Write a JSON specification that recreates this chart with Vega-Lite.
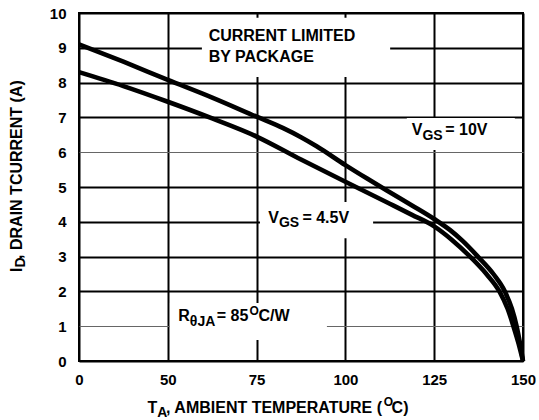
{
  "$schema": "https://vega.github.io/schema/vega-lite/v6.json",
  "width": 444,
  "height": 348,
  "autosize": {"type": "none"},
  "padding": {"left": 79, "top": 13, "right": 16, "bottom": 59},
  "background": "white",
  "config": {
    "font": "Liberation Sans",
    "view": {"stroke": "black", "strokeWidth": 2}
  },
  "datasets": {
    "boxes": [
      {"x": 59.6, "xe": 112.6, "y": 8.16, "ye": 9.86},
      {"x": 117.3, "xe": 147.7, "y": 6.06, "ye": 6.98},
      {"x": 75.95, "xe": 107.8, "y": 3.53, "ye": 4.57},
      {"x": 50.6, "xe": 94.8, "y": 0.6, "ye": 1.67}
    ],
    "curves": [
      {"s": "10V", "x": 0, "y": 9.1},
      {"s": "10V", "x": 25, "y": 8.6},
      {"s": "10V", "x": 50, "y": 8.08},
      {"s": "10V", "x": 62.5, "y": 7.57},
      {"s": "10V", "x": 75, "y": 7.02},
      {"s": "10V", "x": 82.5, "y": 6.69},
      {"s": "10V", "x": 87.5, "y": 6.43},
      {"s": "10V", "x": 91.9, "y": 6.17},
      {"s": "10V", "x": 100, "y": 5.63},
      {"s": "10V", "x": 106, "y": 5.25},
      {"s": "10V", "x": 112.5, "y": 4.85},
      {"s": "10V", "x": 118.75, "y": 4.47},
      {"s": "10V", "x": 125, "y": 4.08},
      {"s": "10V", "x": 129.5, "y": 3.76},
      {"s": "10V", "x": 133, "y": 3.45},
      {"s": "10V", "x": 137.3, "y": 3.0},
      {"s": "10V", "x": 141.67, "y": 2.5},
      {"s": "10V", "x": 144.9, "y": 2.0},
      {"s": "10V", "x": 146.87, "y": 1.5},
      {"s": "10V", "x": 148.2, "y": 1.0},
      {"s": "10V", "x": 149.18, "y": 0.5},
      {"s": "10V", "x": 150, "y": 0},
      {"s": "4.5V", "x": 0, "y": 8.3},
      {"s": "4.5V", "x": 25, "y": 7.9},
      {"s": "4.5V", "x": 50, "y": 7.45},
      {"s": "4.5V", "x": 62.5, "y": 6.97},
      {"s": "4.5V", "x": 75, "y": 6.45},
      {"s": "4.5V", "x": 87.5, "y": 5.79},
      {"s": "4.5V", "x": 100, "y": 5.15},
      {"s": "4.5V", "x": 112.5, "y": 4.52},
      {"s": "4.5V", "x": 118.75, "y": 4.2},
      {"s": "4.5V", "x": 125, "y": 3.87},
      {"s": "4.5V", "x": 130, "y": 3.48},
      {"s": "4.5V", "x": 135.1, "y": 3.0},
      {"s": "4.5V", "x": 139.7, "y": 2.5},
      {"s": "4.5V", "x": 143.36, "y": 2.0},
      {"s": "4.5V", "x": 145.67, "y": 1.5},
      {"s": "4.5V", "x": 147.3, "y": 1.0},
      {"s": "4.5V", "x": 148.76, "y": 0.5},
      {"s": "4.5V", "x": 150, "y": 0}
    ],
    "labels": [
      {"x": 61.5, "y": 9.34, "t": "CURRENT LIMITED", "k": "m"},
      {"x": 61.5, "y": 8.74, "t": "BY PACKAGE", "k": "m"},
      {"x": 118.67, "y": 6.63, "t": "V", "k": "m"},
      {"x": 121.7, "y": 6.47, "t": "GS", "k": "s"},
      {"x": 128.1, "y": 6.63, "t": "= 10V", "k": "m"},
      {"x": 78.3, "y": 4.12, "t": "V", "k": "m"},
      {"x": 81.3, "y": 3.97, "t": "GS", "k": "s"},
      {"x": 87.9, "y": 4.12, "t": "= 4.5V", "k": "m"},
      {"x": 52.95, "y": 1.3, "t": "R", "k": "m"},
      {"x": 56.2, "y": 1.13, "t": "θJA", "k": "s"},
      {"x": 63.8, "y": 1.3, "t": "= 85", "k": "m"},
      {"x": 73.0, "y": 1.45, "t": "O", "k": "p"},
      {"x": 75.5, "y": 1.3, "t": "C/W", "k": "m"},
      {"x": 38.6, "y": -1.35, "t": "T", "k": "m"},
      {"x": 44.1, "y": -1.49, "t": "A", "k": "s"},
      {"x": 49.0, "y": -1.35, "t": ", AMBIENT TEMPERATURE (", "k": "m"},
      {"x": 110.8, "y": -1.18, "t": "O", "k": "p"},
      {"x": 113.0, "y": -1.35, "t": "C)", "k": "m"}
    ],
    "ytitle": [
      {"x": -34.9, "y": 2.557, "t": "I", "k": "m"},
      {"x": -32.4, "y": 2.684, "t": "D", "k": "s"},
      {"x": -34.9, "y": 2.934, "t": ", DRAIN TCURRENT (A)", "k": "m"}
    ]
  },
  "encoding": {
    "x": {
      "field": "x", "type": "quantitative",
      "scale": {"domain": [0, 50, 75, 100, 125, 150], "range": [0, 88.8, 177.6, 266.4, 355.2, 444], "nice": false, "zero": false},
      "axis": {
        "values": [0, 50, 75, 100, 125, 150],
        "title": null, "domain": false, "ticks": false,
        "labelFont": "Liberation Sans", "labelFontSize": 15, "labelFontWeight": "bold",
        "labelColor": "black", "labelPadding": 11, "labelFlush": false, "labelOverlap": false,
        "grid": true, "gridColor": "black", "gridWidth": 2, "gridOpacity": 1
      }
    },
    "y": {
      "field": "y", "type": "quantitative",
      "scale": {"domain": [0, 10], "nice": false, "zero": false},
      "axis": {
        "values": [0, 1, 2, 3, 4, 5, 6, 7, 8, 9, 10],
        "title": null, "domain": false, "ticks": false,
        "labelFont": "Liberation Sans", "labelFontSize": 15, "labelFontWeight": "bold",
        "labelColor": "black", "labelPadding": 13, "labelFlush": false, "labelOverlap": false,
        "grid": true, "gridOpacity": 1,
        "gridColor": {"condition": {"test": "datum.value === 1 || datum.value === 6", "value": "#666666"}, "value": "black"},
        "gridWidth": {"condition": {"test": "datum.value === 1 || datum.value === 6", "value": 1.2}, "value": 2}
      }
    }
  },
  "layer": [
    {
      "data": {"name": "boxes"},
      "mark": {"type": "rect", "fill": "white"},
      "encoding": {
        "x2": {"field": "xe"},
        "y2": {"field": "ye"}
      }
    },
    {
      "data": {"name": "curves"},
      "mark": {"type": "line", "stroke": "black", "strokeWidth": 4.6, "interpolate": "monotone"},
      "encoding": {
        "detail": {"field": "s", "type": "nominal"}
      }
    },
    {
      "data": {"name": "labels"},
      "mark": {"type": "text", "align": "left", "baseline": "middle", "fontWeight": "bold", "color": "black", "font": "Liberation Sans"},
      "encoding": {
        "text": {"field": "t"},
        "size": {"field": "k", "type": "ordinal", "scale": {"domain": ["m", "s", "p"], "range": [16, 12, 10]}, "legend": null}
      }
    },
    {
      "data": {"name": "ytitle"},
      "mark": {"type": "text", "align": "left", "baseline": "middle", "fontWeight": "bold", "color": "black", "font": "Liberation Sans", "angle": 270},
      "encoding": {
        "text": {"field": "t"},
        "size": {"field": "k", "type": "ordinal", "scale": {"domain": ["m", "s", "p"], "range": [16, 12, 10]}, "legend": null}
      }
    }
  ]
}
